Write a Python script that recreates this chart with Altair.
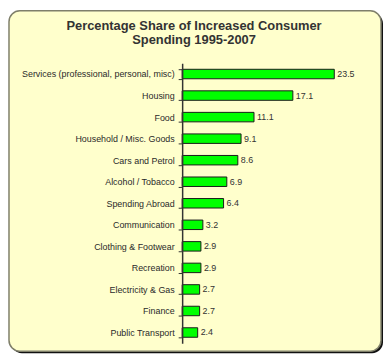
import altair as alt
import pandas as pd

categories = [
    "Services (professional, personal, misc)",
    "Housing",
    "Food",
    "Household / Misc. Goods",
    "Cars and Petrol",
    "Alcohol / Tobacco",
    "Spending Abroad",
    "Communication",
    "Clothing & Footwear",
    "Recreation",
    "Electricity & Gas",
    "Finance",
    "Public Transport",
]
values = [23.5, 17.1, 11.1, 9.1, 8.6, 6.9, 6.4, 3.2, 2.9, 2.9, 2.7, 2.7, 2.4]
title_lines = ["Percentage Share of Increased Consumer", "Spending 1995-2007"]

df = pd.DataFrame({"category": categories, "value": values})
one = alt.Data(values=[{"k": 1}])

W, H = 193, 283
FONT = "Liberation Sans"

yenc = alt.Y(
    "category:N",
    sort=categories,
    scale=alt.Scale(paddingInner=0.56, paddingOuter=0.28),
    axis=alt.Axis(
        title=None,
        tickBand="extent",
        labelFont=FONT,
        labelFontSize=9,
        labelColor="#2A2A2A",
        labelPadding=4,
        labelLimit=220,
        tickSize=4,
        tickColor="#333333",
        tickWidth=1,
        domainColor="#333333",
        domainWidth=1.5,
        zindex=2,
    ),
)
xenc = alt.X("value:Q", scale=alt.Scale(domain=[0, 29.5]), axis=None)

shadow = alt.Chart(one).mark_rect(cornerRadius=11, color="#111111").encode(
    x=alt.value(-173), x2=alt.value(203), y=alt.value(-51), y2=alt.value(293)
)
box = alt.Chart(one).mark_rect(
    cornerRadius=11, fill="#FFFFCC", stroke="#7F7F6A", strokeWidth=1.5
).encode(x=alt.value(-175), x2=alt.value(201), y=alt.value(-53), y2=alt.value(291))

bars = alt.Chart(df).mark_bar(
    color="#00FF00", stroke="#1A1A1A", strokeWidth=1
).encode(x=xenc, y=yenc)

labels = alt.Chart(df).mark_text(
    align="left", baseline="middle", dx=3, font=FONT, fontSize=9, color="#333333"
).encode(x=xenc, y=yenc, text=alt.Text("value:Q", format=".1f"))

title = alt.Chart(one).mark_text(
    text=title_lines,
    align="center",
    baseline="top",
    lineHeight=15,
    font=FONT,
    fontSize=13,
    fontWeight="bold",
    color="#333333",
).encode(x=alt.value(12), y=alt.value(-44))

chart = (
    alt.layer(shadow, box, bars, labels, title)
    .properties(
        width=W,
        height=H,
        autosize=alt.AutoSizeParams(type="none"),
        padding={"left": 176, "top": 54, "right": 11, "bottom": 11},
    )
    .configure(background="white")
    .configure_view(stroke=None)
)

chart.save("out.html", embed_options={"renderer": "svg", "actions": False})
